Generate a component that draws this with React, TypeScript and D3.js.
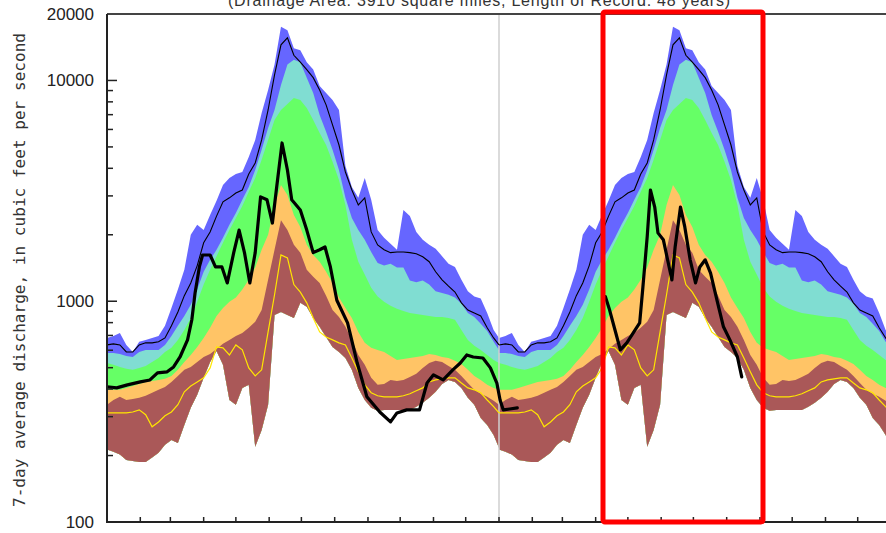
import React, { useEffect, useRef } from 'react';
import * as d3 from 'd3';

const W = 886;
const H = 533;

// day-of-year sample points for the percentile statistics (calendar year)
const DAYS = [0,6,12,18,24,30,36,42,48,54,60,66,72,78,84,90,96,102,108,114,120,126,132,138,144,150,156,162,168,174,180,186,192,198,204,210,216,222,228,234,240,246,252,258,264,270,276,282,288,294,300,306,312,318,324,330,336,342,348,354,360,365];

const MAX = [682,696,718,634,589,655,668,682,696,774,933,1130,1390,2000,2220,2100,2460,2850,3360,3620,3770,3850,4500,5380,7130,9060,11800,17500,16900,14000,13700,12100,11200,9440,8780,8160,7350,4100,3290,2940,3620,2880,2100,1940,1820,1710,2590,2430,2060,1900,1800,1730,1600,1480,1430,1250,1110,1050,1030,885,741,682];
const P90 = [583,583,577,565,559,589,602,602,602,634,696,774,858,963,1130,1360,1540,1710,1940,2220,2510,2880,3290,3930,4850,6090,7350,9540,11800,12400,12100,10300,8780,6980,5850,4850,3930,2940,2380,2100,1900,1670,1490,1450,1480,1420,1420,1240,1220,1240,1190,1110,1090,1070,1040,973,885,849,790,734,655,602];
const P75 = [525,515,504,494,489,499,509,531,553,589,615,668,741,840,994,1190,1390,1600,1840,2100,2380,2700,3130,3620,4370,5380,6620,7350,7830,8330,8160,7510,6620,5780,5100,4280,3540,2730,1900,1510,1320,1150,1050,994,953,924,904,885,876,867,858,849,849,840,824,741,668,628,602,571,542,525];
const P25 = [397,397,397,405,413,422,431,435,440,445,459,489,531,571,621,682,758,858,933,994,1040,1130,1250,1420,1710,2000,2730,3360,3030,2460,2170,1800,1620,1510,1360,1210,1040,933,840,726,648,615,602,589,565,542,548,553,559,565,577,571,559,553,537,520,489,459,440,418,405,397];
const P10 = [340,357,369,357,361,365,373,385,397,409,431,459,489,504,531,559,577,608,641,668,696,718,758,807,912,1250,1710,2330,2100,1800,1660,1390,1290,1210,1060,912,849,766,668,571,515,450,418,422,440,435,440,454,469,499,525,537,531,509,489,459,426,397,381,369,354,340];
const MIN = [213,208,202,191,189,187,187,196,206,224,235,228,275,329,377,450,531,595,515,357,340,405,418,219,261,340,867,894,867,840,983,943,840,766,689,621,589,553,489,405,357,329,319,322,322,322,322,322,333,347,365,389,422,440,431,405,365,340,296,275,248,217];
const MEDIAN = [634,641,634,589,589,634,648,648,655,682,774,894,1060,1210,1450,1840,2060,2430,2820,2940,3090,3190,3770,4230,5380,7350,10600,14500,15600,13000,12100,11200,10300,9060,7750,6290,5100,3850,3190,2730,2940,2060,1800,1710,1660,1670,1670,1660,1640,1590,1510,1360,1250,1170,1100,983,912,885,858,758,682,634];
const YELLOW = [312,312,312,312,315,322,306,270,284,303,315,340,389,413,431,450,499,621,615,571,634,602,499,459,489,726,1070,1620,1570,1190,1100,983,840,726,689,668,648,634,553,479,418,385,373,369,369,369,373,381,393,405,431,440,445,450,450,426,405,397,385,357,333,312];

// current-period 7-day flow (days counted from start of first year)
const CUR1_DAYS = [0,9,19,31,40,47,56,62,68,75,79,82,86,89,96,101,107,112,118,123,128,133,138,143,149,154,158,163,168,172,180,186,192,198,203,208,214,224,233,242,254,264,270,279,291,298,304,313,322,329,335,341,350,357,363,366,369,375,382];
const CUR1_VALUES = [409,405,418,431,440,474,479,504,559,668,824,1090,1430,1620,1620,1430,1430,1210,1660,2100,1660,1210,1660,2970,2880,2260,3290,5210,3930,2880,2590,2100,1660,1710,1760,1430,1010,798,525,369,315,284,312,322,322,426,464,440,489,525,571,559,553,499,426,357,322,325,329];
const CUR2_DAYS = [464,468,473,478,484,490,496,499,503,506,510,513,518,522,526,529,534,538,543,548,552,557,562,568,574,580,587,591];
const CUR2_VALUES = [1050,912,741,602,648,718,798,1160,1960,3190,2670,2040,1900,1540,1250,1760,2670,2170,1540,1210,1430,1540,1340,1010,766,668,559,454];

const MONTH_TICKS = [31,59,90,120,151,181,212,243,273,304,334,365,396,424,455,485,516,546,577,608,638,669,699,730];
const Y_MAJOR = [100, 1000, 10000];
const Y_MINOR = [200,300,400,500,600,700,800,900,2000,3000,4000,5000,6000,7000,8000,9000];
const Y_LABELS = [20000, 10000, 1000, 100];

const TITLE = '(Drainage Area: 3910 square miles, Length of Record: 48 years)';
const Y_TITLE = '7-day average discharge, in cubic feet per second';

export default function App() {
  const ref = useRef<SVGSVGElement>(null);

  useEffect(() => {
    document.body.style.margin = '0';
    const svg = d3.select(ref.current);
    svg.selectAll('*').remove();

    const L = 107, R = 891, T = 14, B = 522;
    const x = d3.scaleLinear().domain([0, 730]).range([L, R]);
    const y = d3.scaleLog().domain([100, 20000]).range([B, T]);

    svg.append('rect').attr('width', W).attr('height', H).attr('fill', '#fff');

    const defs = svg.append('defs');
    defs.append('clipPath').attr('id', 'plotclip')
      .append('rect').attr('x', L).attr('y', T).attr('width', R - L).attr('height', B - T);

    const g = svg.append('g').attr('clip-path', 'url(#plotclip)');

    const idx = DAYS.map((_, i) => i);
    const layers: [number[], string][] = [
      [MAX, '#6666ff'],
      [P90, '#80ddd2'],
      [P75, '#66ff66'],
      [P25, '#ffc466'],
      [P10, '#aa5858'],
    ];
    [0, 365].forEach((off) => {
      layers.forEach(([upper, color]) => {
        const area = d3.area<number>()
          .x((i) => x(DAYS[i] + off))
          .y0((i) => y(MIN[i]))
          .y1((i) => y(upper[i]));
        g.append('path').datum(idx).attr('d', area).attr('fill', color);
      });
    });

    // year divider
    g.append('line').attr('x1', x(365)).attr('x2', x(365)).attr('y1', T).attr('y2', B)
      .attr('stroke', '#cfcfcf').attr('stroke-width', 1.5);

    [0, 365].forEach((off) => {
      const line = (vals: number[]) => d3.line<number>()
        .x((i) => x(DAYS[i] + off))
        .y((i) => y(vals[i]))(idx);
      g.append('path').attr('d', line(YELLOW)).attr('fill', 'none')
        .attr('stroke', '#ffe600').attr('stroke-width', 1.2);
      g.append('path').attr('d', line(MEDIAN)).attr('fill', 'none')
        .attr('stroke', '#000').attr('stroke-width', 1.1);
    });

    const curLine = (days: number[], vals: number[]) => d3.line<number>()
      .x((i) => x(days[i]))
      .y((i) => y(vals[i]))(days.map((_, i) => i));
    [[CUR1_DAYS, CUR1_VALUES], [CUR2_DAYS, CUR2_VALUES]].forEach(([d, v]) => {
      g.append('path').attr('d', curLine(d, v)).attr('fill', 'none')
        .attr('stroke', '#000').attr('stroke-width', 3.2)
        .attr('stroke-linejoin', 'round').attr('stroke-linecap', 'round');
    });

    // frame
    svg.append('line').attr('x1', L).attr('x2', R).attr('y1', T).attr('y2', T)
      .attr('stroke', '#444').attr('stroke-width', 2);
    svg.append('line').attr('x1', L).attr('x2', R).attr('y1', B).attr('y2', B)
      .attr('stroke', '#222').attr('stroke-width', 2);
    svg.append('line').attr('x1', L).attr('x2', L).attr('y1', T).attr('y2', B + 1)
      .attr('stroke', '#222').attr('stroke-width', 2);

    // x ticks
    MONTH_TICKS.forEach((d) => {
      svg.append('line').attr('x1', x(d)).attr('x2', x(d)).attr('y1', B).attr('y2', B - 5)
        .attr('stroke', '#222').attr('stroke-width', 1.5);
    });

    // y ticks
    Y_MAJOR.forEach((v) => {
      svg.append('line').attr('x1', L).attr('x2', L + 10).attr('y1', y(v)).attr('y2', y(v))
        .attr('stroke', '#222').attr('stroke-width', 1.5);
    });
    Y_MINOR.forEach((v) => {
      svg.append('line').attr('x1', L).attr('x2', L + 6).attr('y1', y(v)).attr('y2', y(v))
        .attr('stroke', '#222').attr('stroke-width', 1.5);
    });
    Y_LABELS.forEach((v) => {
      svg.append('text').attr('x', 94).attr('y', y(v) + 6)
        .attr('text-anchor', 'end')
        .attr('font-family', "'Liberation Sans', Arial, sans-serif")
        .attr('font-size', 17).attr('fill', '#222').text(String(v));
    });

    // y title
    svg.append('text')
      .attr('transform', 'translate(25,270) rotate(-90)')
      .attr('text-anchor', 'middle')
      .attr('font-family', "'DejaVu Sans Mono', monospace")
      .attr('font-size', 16).attr('fill', '#333')
      .attr('textLength', 474).attr('lengthAdjust', 'spacing')
      .text(Y_TITLE);

    // title (partly cut off at top)
    svg.append('text').attr('x', 479).attr('y', 6)
      .attr('text-anchor', 'middle')
      .attr('font-family', "'Liberation Sans', Arial, sans-serif")
      .attr('font-size', 16).attr('fill', '#333')
      .attr('textLength', 502).attr('lengthAdjust', 'spacing')
      .text(TITLE);

    // highlight box
    svg.append('rect').attr('x', 603).attr('y', 12).attr('width', 160).attr('height', 510)
      .attr('rx', 2).attr('fill', 'none').attr('stroke', '#ff0000').attr('stroke-width', 5);
  }, []);

  return (
    <svg ref={ref} width={W} height={H}
      style={{ display: 'block', position: 'absolute', left: 0, top: 0 }} />
  );
}
